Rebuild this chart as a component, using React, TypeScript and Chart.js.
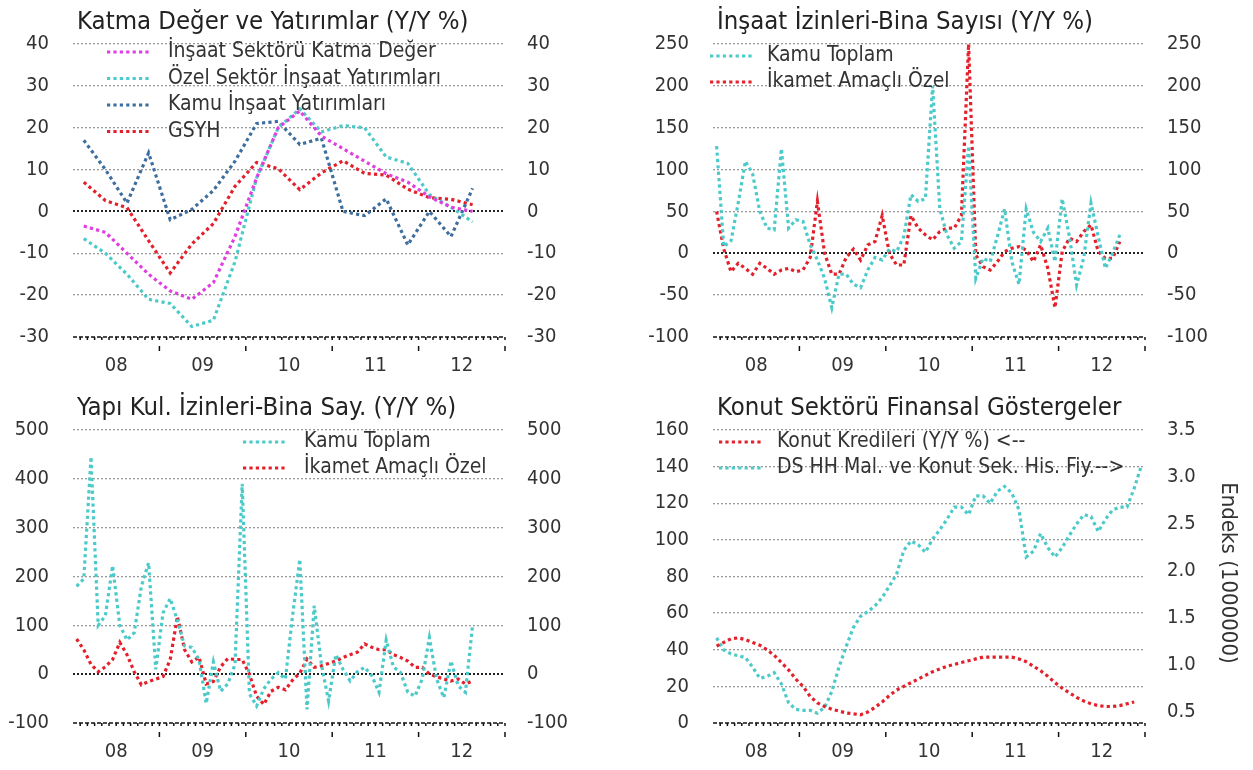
import React, { useEffect, useRef } from "react";
import { Chart, registerables } from "chart.js";
Chart.register(...registerables);

const FONT = '"DejaVu Sans Condensed", "Liberation Sans Narrow", "DejaVu Sans", sans-serif';

// ---------- categories ----------
const quarters = [
  "2008Q1", "2008Q2", "2008Q3", "2008Q4",
  "2009Q1", "2009Q2", "2009Q3", "2009Q4",
  "2010Q1", "2010Q2", "2010Q3", "2010Q4",
  "2011Q1", "2011Q2", "2011Q3", "2011Q4",
  "2012Q1", "2012Q2", "2012Q3",
];
const months: string[] = [];
for (let y = 2008; y <= 2012; y++) for (let m = 1; m <= 12; m++) months.push(`${y}-${String(m).padStart(2, "0")}`);

const yearLabels = ["08", "09", "10", "11", "12"];
const yearLabelMonths = [6, 18, 30, 42, 54];

// ---------- panel 1: Katma Değer ve Yatırımlar ----------
const p1InsaatKatma = [-3.5, -5, -10, -15, -19, -21, -17, -6, 8, 20, 24, 18, 15, 12, 9, 7, 3.5, 1, 0];
const p1OzelInsaat = [-6.5, -10, -15, -21, -22, -27.5, -26, -12, 8, 20, 24.5, 19, 20.5, 20, 13, 11.5, 4, 1, -2.5];
const p1KamuInsaat = [17, 10, 2, 14, -2, 0.5, 5, 12, 21, 21.5, 16, 17.5, 0, -1, 3, -8, 0, -6, 5.5];
const p1GSYH = [7, 2.6, 0.9, -7, -14.7, -7.8, -2.9, 6, 11.7, 10.2, 5.2, 9.2, 12.1, 9.1, 8.7, 5.3, 3.3, 2.9, 1.6];

// ---------- panel 2: İnşaat İzinleri ----------
const p2KamuToplam = [128, 8, 15, 60, 110, 95, 50, 30, 28, 125, 30, 40, 38, 10, -8, -30, -65, -25, -25, -37,
  -41, -20, -5, -8, 5, 2, 20, 70, 62, 65, 200, 53, 22, 6, 14, 128, -30, -6, -10, 20,
  53, -10, -37, 53, 25, 14, 30, -10, 65, 20, -38, -5, 60, 20, -18, 0, 22];
const p2IkametOzel = [50, 5, -22, -12, -18, -25, -12, -18, -25, -20, -18, -22, -20, -5, 62, 0, -25, -25, -5, 5,
  -8, 10, 14, 45, 0, -14, -14, 45, 30, 22, 16, 26, 30, 30, 45, 250, -2, -16, -20, -10,
  2, 6, 8, 4, -10, 10, -18, -65, 2, 18, 14, 26, 34, 2, -6, -6, 14];

// ---------- panel 3: Yapı Kullanma İzinleri ----------
const p3KamuToplam = [180, 195, 445, 100, 120, 222, 100, 70, 85, 180, 228, 10, 125, 155, 110, 58, 55, 30, -60, 25,
  -35, -20, 20, 390, -40, -65, -30, -10, 3, -10, 120, 235, -72, 140, 20, -55, 40, 10, -14, 5,
  14, -3, -37, 70, 15, 3, -37, -45, -10, 75, -10, -48, 27, -24, -37, 100];
const p3IkametOzel = [72, 50, 20, 5, 15, 30, 65, 40, 5, -22, -15, -10, -5, 30, 118, 50, 25, 35, -20, -15,
  15, 32, 30, 30, 0, -45, -62, -35, -27, -32, -12, 2, 31, 14, 17, 22, 27, 34, 40, 45,
  62, 55, 50, 50, 40, 34, 27, 14, 14, 0, -5, -10, -14, -10, -20, -14];

// ---------- panel 4: Konut Sektörü Finansal Göstergeler ----------
const p4KonutKredi = [42, 44, 46, 46.5, 45.5, 44, 42.5, 40, 37, 33, 29, 24, 20, 14.5, 11, 9, 7.5, 6.5, 5.5, 5,
  4.5, 6, 8.5, 11.5, 15, 18, 20, 22, 24, 26, 28, 29.5, 31, 32, 33, 34, 35, 36, 36, 36,
  36, 36, 35, 33.5, 31, 28.5, 25.5, 22, 19, 16.5, 14, 12, 10.5, 9.5, 9, 9, 9.5, 10.5, 11.5];
const p4HisseFiyat = [1.29, 1.16, 1.12, 1.1, 1.08, 0.98, 0.86, 0.88, 0.92, 0.8, 0.6, 0.53, 0.52, 0.52, 0.49, 0.55, 0.72, 0.98, 1.2, 1.4,
  1.52, 1.57, 1.63, 1.72, 1.84, 1.97, 2.22, 2.32, 2.28, 2.2, 2.34, 2.44, 2.55, 2.68, 2.68, 2.6, 2.8, 2.8, 2.72, 2.85,
  2.9, 2.83, 2.65, 2.15, 2.21, 2.4, 2.25, 2.15, 2.25, 2.38, 2.5, 2.6, 2.58, 2.42, 2.55, 2.65, 2.68, 2.68, 2.88, 3.12];
const p4RightTicks = [0.5, 1.0, 1.5, 2.0, 2.5, 3.0, 3.5];

// ---------- colours ----------
const MAGENTA = "#e03ee0";
const TEAL = "#4ccaca";
const BLUE = "#3d6e9e";
const RED = "#e3202b";

function periodToMonth(p: string): number {
  const y = parseInt(p.slice(0, 4), 10) - 2008;
  if (p[4] === "Q") return y * 12 + (parseInt(p[5], 10) - 1) * 3 + 1.5;
  return y * 12 + parseInt(p.slice(5, 7), 10) - 1 + 0.5;
}
function toPoints(periods: string[], values: number[]) {
  return values.map((v, i) => ({ x: periodToMonth(periods[i]), y: v }));
}

function ds(label: string, periods: string[], values: number[], color: string, axis = "y") {
  return {
    label,
    data: toPoints(periods, values),
    borderColor: color,
    backgroundColor: color,
    borderWidth: 3.2,
    borderDash: [3.2, 3.2],
    pointRadius: 0,
    tension: 0,
    fill: false,
    yAxisID: axis,
  };
}

type PanelCfg = {
  title: string;
  datasets: any[];
  yMin: number; yMax: number; yStep: number;
  rightMin?: number; rightMax?: number; rightTicks?: number[]; rightTitle?: string;
  legend: { sx: number; sw: number; tx: number; y0: number; dy: number };
};

const PLOT_LEFT = 73;
const PLOT_TOP = 44;
const PLOT_BOTTOM = 337;
const PLOT_RIGHT = 505;

function buildConfig(cfg: PanelCfg, W: number, H: number): any {
  const tickFont = { family: FONT, size: 20 };
  const decor = {
    id: "decor",
    afterDraw(chart: any) {
      const ctx = chart.ctx;
      const ca = chart.chartArea;
      const xs = chart.scales.x;
      ctx.save();
      // bottom axis
      ctx.strokeStyle = "#111";
      ctx.lineWidth = 1.5;
      ctx.setLineDash([4, 2]);
      ctx.beginPath();
      ctx.moveTo(ca.left, ca.bottom);
      ctx.lineTo(ca.right, ca.bottom);
      ctx.stroke();
      ctx.setLineDash([]);
      for (let m = 1; m <= 60; m++) {
        const px = xs.getPixelForValue(m);
        ctx.beginPath();
        ctx.moveTo(px, ca.bottom);
        ctx.lineTo(px, ca.bottom + 3);
        ctx.stroke();
        if (m % 12 === 0) {
          ctx.beginPath();
          ctx.moveTo(px, ca.bottom + 9);
          ctx.lineTo(px, ca.bottom + 14);
          ctx.stroke();
        }
      }
      // title
      ctx.fillStyle = "#222";
      ctx.font = `25.5px ${FONT}`;
      ctx.textAlign = "left";
      ctx.textBaseline = "alphabetic";
      ctx.fillText(cfg.title, ca.left + 4, 29);
      // legend
      const lg = cfg.legend;
      ctx.font = `21px ${FONT}`;
      ctx.textBaseline = "middle";
      chart.data.datasets.forEach((d: any, i: number) => {
        const y = lg.y0 + i * lg.dy;
        ctx.strokeStyle = d.borderColor;
        ctx.lineWidth = d.borderWidth;
        ctx.setLineDash(d.borderDash);
        ctx.beginPath();
        ctx.moveTo(lg.sx, y);
        ctx.lineTo(lg.sx + lg.sw, y);
        ctx.stroke();
        ctx.setLineDash([]);
        ctx.fillStyle = "#333";
        ctx.fillText(d.label, lg.tx, y);
      });
      // right axis title
      if (cfg.rightTitle) {
        ctx.translate(W - 25, 187);
        ctx.rotate(Math.PI / 2);
        ctx.textAlign = "center";
        ctx.font = `22px ${FONT}`;
        ctx.fillStyle = "#333";
        ctx.fillText(cfg.rightTitle, 0, 0);
      }
      ctx.restore();
    },
  };

  const rightScale: any = cfg.rightTicks
    ? {
        position: "right",
        min: cfg.rightMin,
        max: cfg.rightMax,
        afterBuildTicks: (s: any) => {
          s.ticks = cfg.rightTicks!.map((v) => ({ value: v }));
        },
        ticks: { padding: 22, color: "#333", font: tickFont, callback: (v: number) => Number(v).toFixed(1) },
        grid: { display: false, drawTicks: false, tickLength: 0 },
        border: { display: false },
        afterFit: (s: any) => { s.width = W - PLOT_RIGHT; },
      }
    : {
        position: "right",
        min: cfg.yMin,
        max: cfg.yMax,
        ticks: { stepSize: cfg.yStep, padding: 22, color: "#333", font: tickFont },
        grid: { display: false, drawTicks: false, tickLength: 0 },
        border: { display: false },
        afterFit: (s: any) => { s.width = W - PLOT_RIGHT; },
      };

  return {
    type: "line",
    data: { datasets: cfg.datasets },
    options: {
      animation: false,
      responsive: false,
      devicePixelRatio: 1,
      layout: { padding: { top: PLOT_TOP, left: 0, right: 0, bottom: 0 } },
      plugins: { legend: { display: false }, title: { display: false }, tooltip: { enabled: false } },
      scales: {
        x: {
          type: "linear",
          min: 0,
          max: 60,
          afterBuildTicks: (s: any) => {
            s.ticks = yearLabelMonths.map((v) => ({ value: v }));
          },
          ticks: {
            autoSkip: false,
            maxRotation: 0,
            padding: 17,
            color: "#333",
            font: tickFont,
            callback: (_v: number, i: number) => yearLabels[i],
          },
          grid: { display: false, drawTicks: false, tickLength: 0 },
          border: { display: false },
          afterFit: (s: any) => { s.height = H - PLOT_BOTTOM; },
        },
        y: {
          position: "left",
          min: cfg.yMin,
          max: cfg.yMax,
          ticks: { stepSize: cfg.yStep, padding: 24, color: "#333", font: tickFont },
          grid: {
            drawTicks: false,
            tickLength: 0,
            color: (c: any) =>
              c.tick && c.tick.value === cfg.yMin ? "rgba(0,0,0,0)" : c.tick && c.tick.value === 0 ? "#222" : "#9a9a9a",
            lineWidth: (c: any) => (c.tick && c.tick.value === 0 ? 2 : 1.3),
          },
          border: { display: false, dash: [2, 2] },
          afterFit: (s: any) => { s.width = PLOT_LEFT; },
        },
        y2: rightScale,
      },
    },
    plugins: [decor],
  };
}

function Panel(props: { cfg: PanelCfg; left: number; top: number; width: number; height: number }) {
  const ref = useRef<HTMLCanvasElement>(null);
  const { cfg, left, top, width, height } = props;
  useEffect(() => {
    if (!ref.current) return;
    const chart = new Chart(ref.current, buildConfig(cfg, width, height));
    return () => chart.destroy();
  }, []);
  return (
    <canvas
      ref={ref}
      width={width}
      height={height}
      style={{ position: "absolute", left, top, width, height }}
    />
  );
}

const panel1: PanelCfg = {
  title: "Katma Değer ve Yatırımlar (Y/Y %)",
  datasets: [
    ds("İnşaat Sektörü Katma Değer", quarters, p1InsaatKatma, MAGENTA),
    ds("Özel Sektör İnşaat Yatırımları", quarters, p1OzelInsaat, TEAL),
    ds("Kamu İnşaat Yatırımları", quarters, p1KamuInsaat, BLUE),
    ds("GSYH", quarters, p1GSYH, RED),
  ],
  yMin: -30, yMax: 40, yStep: 10,
  legend: { sx: 107, sw: 43, tx: 168, y0: 52, dy: 26.5 },
};

const panel2: PanelCfg = {
  title: "İnşaat İzinleri-Bina Sayısı (Y/Y %)",
  datasets: [
    ds("Kamu Toplam", months, p2KamuToplam, TEAL),
    ds("İkamet Amaçlı Özel", months, p2IkametOzel, RED),
  ],
  yMin: -100, yMax: 250, yStep: 50,
  legend: { sx: 70, sw: 42, tx: 127, y0: 56, dy: 26 },
};

const panel3: PanelCfg = {
  title: "Yapı Kul. İzinleri-Bina Say. (Y/Y %)",
  datasets: [
    ds("Kamu Toplam", months, p3KamuToplam, TEAL),
    ds("İkamet Amaçlı Özel", months, p3IkametOzel, RED),
  ],
  yMin: -100, yMax: 500, yStep: 100,
  legend: { sx: 243, sw: 43, tx: 304, y0: 56, dy: 26 },
};

const panel4: PanelCfg = {
  title: "Konut Sektörü Finansal Göstergeler",
  datasets: [
    ds("Konut Kredileri (Y/Y %) <--", months, p4KonutKredi, RED),
    ds("DS HH Mal. ve Konut Sek. His. Fiy.-->", months, p4HisseFiyat, TEAL, "y2"),
  ],
  yMin: 0, yMax: 160, yStep: 20,
  rightMin: 0.385, rightMax: 3.5, rightTicks: p4RightTicks, rightTitle: "Endeks (1000000)",
  legend: { sx: 79, sw: 42, tx: 137, y0: 56, dy: 26 },
};

export default function App() {
  return (
    <div style={{ position: "absolute", left: 0, top: 0, width: 1253, height: 770, background: "#fff", overflow: "hidden" }}>
      <Panel cfg={panel1} left={0} top={0} width={640} height={386} />
      <Panel cfg={panel2} left={640} top={0} width={613} height={386} />
      <Panel cfg={panel3} left={0} top={386} width={640} height={384} />
      <Panel cfg={panel4} left={640} top={386} width={613} height={384} />
    </div>
  );
}
